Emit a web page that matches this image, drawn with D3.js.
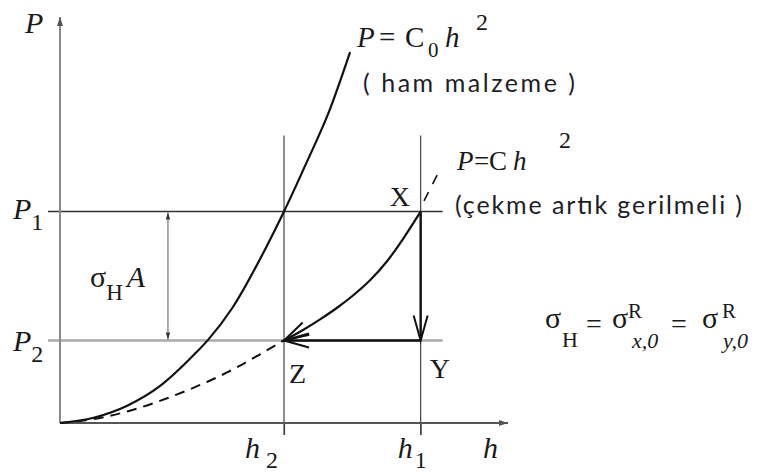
<!DOCTYPE html>
<html>
<head>
<meta charset="utf-8">
<script src="https://cdn.jsdelivr.net/npm/d3@7"></script>
<style>
  html, body { margin: 0; padding: 0; background: #fff; }
  svg { display: block; }
  .serif { font-family: "Liberation Serif", "DejaVu Serif", serif; fill: #1a1a1a; }
  .sans { font-family: Lato, "Open Sans", sans-serif; fill: #1e1e28; }
</style>
</head>
<body>
<svg id="chart" width="761" height="474"></svg>
<script>
// Characteristic levels: h2, h1 on the h axis, P1, P2 on the P axis
const hTicks = [1.0, 1.61];
const hTickNames = ["2", "1"];
const pLevels = [1.0, 0.39];
const pLevelNames = ["1", "2"];

// Virgin material curve P = C0 h^2
const virginH = [0, 0.15, 0.3, 0.45, 0.6, 0.66, 0.77, 0.92, 1.0, 1.1, 1.2, 1.295];
const virginP = [0, 0.025, 0.082, 0.178, 0.325, 0.392, 0.545, 0.83, 1.0, 1.23, 1.47, 1.754];

// Reloading branch of P = C h^2, from the origin up to Z
const reloadH = [0, 0.121, 0.210, 0.299, 0.388, 0.478, 0.567, 0.656, 0.746, 0.817, 0.893, 1.0];
const reloadP = [0, 0.014, 0.031, 0.054, 0.083, 0.117, 0.154, 0.194, 0.239, 0.279, 0.325, 0.39];

// Path X -> Z along P = C h^2 (listed from Z up to X)
const unloadH = [1.0, 1.085, 1.161, 1.237, 1.308, 1.384, 1.46, 1.531, 1.61];
const unloadP = [0.39, 0.44, 0.49, 0.545, 0.603, 0.675, 0.765, 0.87, 1.0];

// Continuation of P = C h^2 beyond X
const extH = [1.625, 1.692];
const extP = [1.05, 1.19];

const svg = d3.select("#chart");
const x = d3.scaleLinear().domain([0, 2]).range([60, 508]);
const y = d3.scaleLinear().domain([0, 1.92]).range([423, 17]);

const zip = (hs, ps) => hs.map((h, i) => [h, ps[i]]);
const line = d3.line().x(d => x(d[0])).y(d => y(d[1])).curve(d3.curveMonotoneX);

// markers
const defs = svg.append("defs");
function openMarker(id, orient) {
  defs.append("marker").attr("id", id)
    .attr("viewBox", "-28 -10 31 20").attr("refX", 0).attr("refY", 0)
    .attr("markerWidth", 31).attr("markerHeight", 20)
    .attr("markerUnits", "userSpaceOnUse").attr("orient", orient)
    .append("path").attr("d", "M-25,-7 L0,0 L-25,7")
    .attr("fill", "none").attr("stroke", "#111").attr("stroke-width", 2);
}
openMarker("openHead", "auto");
openMarker("openHeadStart", "auto-start-reverse");
defs.append("marker").attr("id", "smallHead")
  .attr("viewBox", "-8 -4 9 8").attr("refX", 0).attr("refY", 0)
  .attr("markerWidth", 9).attr("markerHeight", 8)
  .attr("markerUnits", "userSpaceOnUse").attr("orient", "auto-start-reverse")
  .append("path").attr("d", "M-7,-2.2 L0,0 L-7,2.2Z").attr("fill", "#333");
defs.append("marker").attr("id", "axisHead")
  .attr("viewBox", "-10 -5 11 10").attr("refX", 0).attr("refY", 0)
  .attr("markerWidth", 11).attr("markerHeight", 10)
  .attr("markerUnits", "userSpaceOnUse").attr("orient", "auto")
  .append("path").attr("d", "M-9,-3 L0,0 L-9,3Z").attr("fill", "#555");

// guide lines at P1, P2
const pColors = ["#333", "#aaa"];
const pWidths = [1.4, 2.4];
svg.append("g").selectAll("line").data(pLevels).join("line")
  .attr("x1", x(0) - 12).attr("x2", x(hTicks[1]) + 22)
  .attr("y1", d => y(d)).attr("y2", d => y(d))
  .attr("stroke", (d, i) => pColors[i]).attr("stroke-width", (d, i) => pWidths[i]);

// guide lines at h2, h1
svg.append("g").selectAll("line").data(hTicks).join("line")
  .attr("x1", d => x(d)).attr("x2", d => x(d))
  .attr("y1", y(1.36)).attr("y2", y(0) + 12)
  .attr("stroke", "#444").attr("stroke-width", 1.2);

// axes
const xAxis = d3.axisBottom(x).tickValues(hTicks).tickSize(12).tickFormat("").tickSizeOuter(0);
const gx = svg.append("g").attr("transform", `translate(0,${y(0)})`).call(xAxis);
gx.select(".domain").remove();
gx.selectAll(".tick line").attr("stroke", "#444").attr("stroke-width", 1.2);
svg.append("line")
  .attr("x1", x(0)).attr("x2", x(2)).attr("y1", y(0)).attr("y2", y(0))
  .attr("stroke", "#555").attr("stroke-width", 2).attr("marker-end", "url(#axisHead)");
svg.append("line")
  .attr("x1", x(0)).attr("x2", x(0)).attr("y1", y(0)).attr("y2", y(1.92))
  .attr("stroke", "#8a8a8a").attr("stroke-width", 2).attr("marker-end", "url(#axisHead)");

// sigma_H A dimension arrow
const hDim = 0.482;
svg.append("line")
  .attr("x1", x(hDim)).attr("x2", x(hDim)).attr("y1", y(pLevels[0]) + 1).attr("y2", y(pLevels[1]) - 1)
  .attr("stroke", "#666").attr("stroke-width", 1.1)
  .attr("marker-start", "url(#smallHead)").attr("marker-end", "url(#smallHead)");

// curves
svg.append("path").datum(zip(virginH, virginP)).attr("d", line)
  .attr("fill", "none").attr("stroke", "#111").attr("stroke-width", 2.2);
svg.append("path").datum(zip(reloadH, reloadP)).attr("d", line)
  .attr("fill", "none").attr("stroke", "#111").attr("stroke-width", 2)
  .attr("stroke-dasharray", "10,7");
svg.append("path").datum(zip(extH, extP)).attr("d", line)
  .attr("fill", "none").attr("stroke", "#111").attr("stroke-width", 1.6)
  .attr("stroke-dasharray", "10,9");
svg.append("path").datum(zip(unloadH, unloadP)).attr("d", line)
  .attr("fill", "none").attr("stroke", "#111").attr("stroke-width", 2.2)
  .attr("marker-start", "url(#openHeadStart)");

// X -> Y and Y -> Z
svg.append("line")
  .attr("x1", x(hTicks[1])).attr("x2", x(hTicks[1])).attr("y1", y(pLevels[0])).attr("y2", y(pLevels[1]))
  .attr("stroke", "#111").attr("stroke-width", 2.4).attr("marker-end", "url(#openHead)");
svg.append("line")
  .attr("x1", x(hTicks[1])).attr("x2", x(hTicks[0])).attr("y1", y(pLevels[1])).attr("y2", y(pLevels[1]))
  .attr("stroke", "#111").attr("stroke-width", 2.4).attr("marker-end", "url(#openHead)");

// ---- text ----
const T = (cls, px, py, size) => svg.append("text").attr("class", cls)
  .attr("x", px).attr("y", py).attr("font-size", size);

// axis names
T("serif", 25, 33, 30).attr("font-style", "italic").text("P");
T("serif", 483, 458, 30).attr("font-style", "italic").text("h");

// P1, P2
pLevels.forEach((p, i) => {
  const t = T("serif", 13, y(p) + 7 + i * 3, 30);
  t.append("tspan").attr("font-style", "italic").text("P");
  t.append("tspan").attr("font-size", 24).attr("dx", 0).attr("dy", 11).text(pLevelNames[i]);
});

// h2, h1
hTicks.forEach((h, i) => {
  const t = T("serif", x(h) - 39 + i * 16, 458, 30);
  t.append("tspan").attr("font-style", "italic").text("h");
  t.append("tspan").attr("font-size", 24).attr("dx", i === 0 ? 6 : 2).attr("dy", 10).text(hTickNames[i]);
});

// point names
T("serif", x(hTicks[1]) - 31, y(pLevels[0]) - 6, 28).text("X");
T("serif", x(hTicks[1]) + 9, y(pLevels[1]) + 37, 28).text("Y");
T("serif", x(hTicks[0]) + 5, y(pLevels[1]) + 42, 28).text("Z");

// sigma_H A
{
  const t = T("serif", 90, 287, 30);
  t.append("tspan").text("σ");
  t.append("tspan").attr("font-size", 23).attr("dy", 13).text("H");
  t.append("tspan").attr("font-style", "italic").attr("font-size", 30).attr("dx", 4).attr("dy", -13).text("A");
}

// P = C0 h^2
{
  const t = T("serif", 357, 47, 29);
  t.append("tspan").attr("font-style", "italic").attr("x", 357).text("P");
  t.append("tspan").attr("x", 379).text("=");
  t.append("tspan").attr("x", 405).text("C");
  t.append("tspan").attr("font-size", 21).attr("x", 428).attr("y", 57).text("0");
  t.append("tspan").attr("font-style", "italic").attr("x", 445).attr("y", 47).text("h");
  t.append("tspan").attr("font-size", 24).attr("x", 476).attr("y", 30).text("2");
}
T("sans", 363, 92, 25).attr("textLength", 212).attr("lengthAdjust", "spacing")
  .attr("xml:space", "preserve").text("( ham malzeme )");

// P = C h^2
{
  const t = T("serif", 457, 170, 27);
  t.append("tspan").attr("font-style", "italic").attr("x", 457).text("P");
  t.append("tspan").attr("x", 474).text("=");
  t.append("tspan").attr("x", 489).text("C");
  t.append("tspan").attr("font-style", "italic").attr("x", 513).text("h");
  t.append("tspan").attr("font-size", 24).attr("x", 559).attr("y", 148).text("2");
}
T("sans", 455, 214, 25).attr("textLength", 287).attr("lengthAdjust", "spacing")
  .text("(çekme artık gerilmeli )");

// sigma_H = sigma^R_{x,0} = sigma^R_{y,0}
{
  T("serif", 545, 328, 30).text("σ");
  T("serif", 562, 347, 22).text("H");
  T("serif", 586, 333, 28).text("=");
  T("serif", 612, 328, 30).text("σ");
  T("serif", 628, 318, 21).text("R");
  T("serif", 632, 348, 22).attr("font-style", "italic").text("x,0");
  T("serif", 671, 333, 28).text("=");
  T("serif", 702, 328, 30).text("σ");
  T("serif", 722, 318, 21).text("R");
  T("serif", 723, 348, 22).attr("font-style", "italic").text("y,0");
}
</script>
</body>
</html>
